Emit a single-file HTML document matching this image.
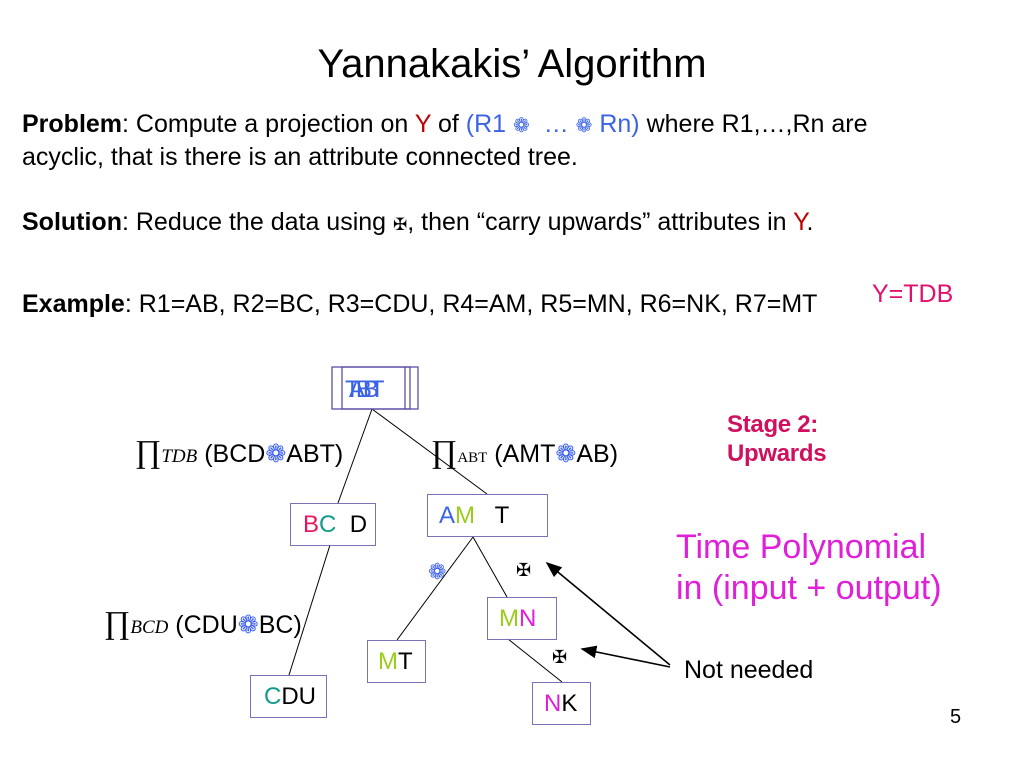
<!DOCTYPE html>
<html><head><meta charset="utf-8"><style>
body{margin:0;width:1024px;height:768px;background:#fff;position:relative;overflow:hidden;font-family:"Liberation Sans",sans-serif;color:#000}
.t{position:absolute;white-space:nowrap}
.b{position:absolute;border:1.5px solid #7a72b8;box-sizing:border-box;font-size:24px;white-space:nowrap}
.fl{color:#3a5ef0}
.pi{font-family:"Liberation Serif",serif}
.r{color:#c00000}.bl{color:#3b63e6}.pk{color:#e8185a}.tl{color:#139a8c}.gr{color:#9acd1a}.mg{color:#e020d8}
</style></head><body>
<div class="t" style="left:0;width:1024px;top:42px;text-align:center;font-size:40px">Yannakakis’ Algorithm</div>
<div class="t" style="left:22px;top:109px;font-size:25px;line-height:31px"><b>Problem</b>: Compute a projection on <span class="r">Y</span> of <span class="bl">(R1 <span style="font-size:20px">❁</span> &nbsp;… <span style="font-size:20px">❁</span> Rn)</span> where R1,…,Rn are<br>acyclic, that is there is an attribute connected tree.</div>
<div class="t" style="left:22px;top:208px;font-size:25px"><b>Solution</b>: Reduce the data using <span style="font-size:17px">✠</span>, then “carry upwards” attributes in <span class="r">Y</span>.</div>
<div class="t" style="left:22px;top:290px;font-size:25px"><b>Example</b>: R1=AB, R2=BC, R3=CDU, R4=AM, R5=MN, R6=NK, R7=MT</div>
<div class="t" style="left:872px;top:280px;font-size:25px;color:#e0106e">Y=TDB</div>
<div class="t" style="left:727px;top:410px;font-size:24px;line-height:29px;color:#d0105e;font-weight:bold;letter-spacing:-0.3px">Stage 2:<br>Upwards</div>
<div class="t" style="left:676px;top:527px;font-size:34px;line-height:41px;color:#e020d8">Time Polynomial<br>in (input + output)</div>
<div class="t" style="left:684px;top:656px;font-size:25px">Not needed</div>
<div class="t" style="left:950px;top:706px;font-size:20px">5</div>

<svg style="position:absolute;left:0;top:0" width="1024" height="768">
<defs><marker id="a" markerWidth="10" markerHeight="8" refX="9" refY="4" orient="auto"><path d="M0,0L10,4L0,8z" fill="#000"/></marker></defs>
<g stroke="#000" stroke-width="1">
<line x1="372" y1="409" x2="338" y2="503"/>
<line x1="372" y1="409" x2="487" y2="494"/>
<line x1="330" y1="545" x2="289" y2="675"/>
<line x1="473" y1="537" x2="397" y2="640"/>
<line x1="473" y1="537" x2="507" y2="597"/>
<line x1="508" y1="639" x2="562" y2="682"/>
</g>
<g stroke="#000" stroke-width="1.6" marker-end="url(#a)">
<line x1="670" y1="665" x2="547" y2="563"/>
<line x1="670" y1="667" x2="582" y2="649"/>
</g>
<g fill="none" stroke="#5a52a8" stroke-width="1.3">
<rect x="332" y="367" width="86" height="42"/>
<rect x="342" y="367" width="68" height="42"/>
<line x1="405" y1="367" x2="405" y2="409"/>
</g>
</svg>
<div class="t" style="left:345px;top:376px;font-size:24px;color:#3b63e6;letter-spacing:-9px">TABBT</div>

<div class="t" style="left:135px;top:433px;font-size:25px"><span class="pi" style="font-size:32px">∏</span><i class="pi" style="font-size:19px">TDB</i> (BCD<span class="fl">❁</span>ABT)</div>
<div class="t" style="left:431px;top:433px;font-size:25px"><span class="pi" style="font-size:32px">∏</span><span class="pi" style="font-size:15px">ABT</span> (AMT<span class="fl">❁</span>AB)</div>
<div class="t" style="left:104px;top:604px;font-size:25px"><span class="pi" style="font-size:32px">∏</span><i class="pi" style="font-size:19px">BCD</i> (CDU<span class="fl">❁</span>BC)</div>

<div class="b" style="left:290px;top:503px;width:86px;height:43px;padding:7px 0 0 12px"><span class="pk">B</span><span class="tl">C</span>&nbsp; D</div>
<div class="b" style="left:427px;top:494px;width:121px;height:43px;padding:7px 0 0 11px"><span class="bl">A</span><span class="gr">M</span>&nbsp;&nbsp; T</div>
<div class="b" style="left:487px;top:597px;width:70px;height:43px;padding:7px 0 0 11px"><span class="gr">M</span><span class="mg">N</span></div>
<div class="b" style="left:367px;top:640px;width:59px;height:43px;padding:7px 0 0 10px"><span class="gr">M</span>T</div>
<div class="b" style="left:250px;top:675px;width:77px;height:43px;padding:7px 0 0 13px"><span class="tl">C</span>DU</div>
<div class="b" style="left:532px;top:682px;width:59px;height:43px;padding:7px 0 0 11px"><span class="mg">N</span>K</div>

<div class="t fl" style="left:428px;top:559px;font-size:22px">❁</div>
<div class="t" style="left:516px;top:560px;font-size:18px">✠</div>
<div class="t" style="left:552px;top:647px;font-size:18px">✠</div>
</body></html>
